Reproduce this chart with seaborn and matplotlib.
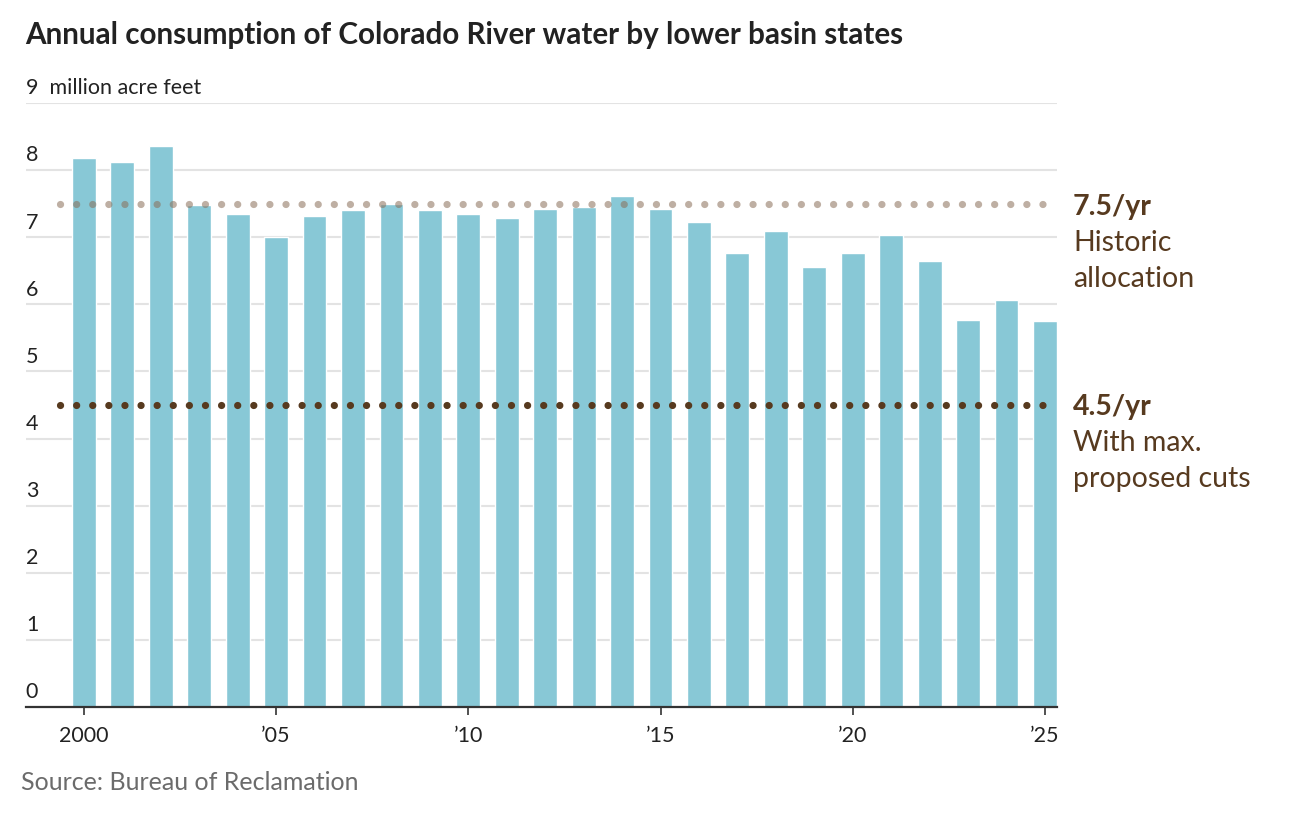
import numpy as np
import pandas as pd
import matplotlib
matplotlib.use("Agg")
import matplotlib.pyplot as plt
import matplotlib.transforms as mtransforms
import seaborn as sns

# Lower basin consumption, million acre feet
years = list(range(2000, 2026))
consumption = [8.18, 8.12, 8.36, 7.48, 7.34, 7.00, 7.31, 7.40, 7.49, 7.40,
               7.34, 7.28, 7.42, 7.45, 7.61, 7.42, 7.22, 6.76, 7.10, 6.55,
               6.76, 7.04, 6.64, 5.76, 6.07, 5.75]

y_ticks = [0, 1, 2, 3, 4, 5, 6, 7, 8, 9]
x_tick_years = [2000, 2005, 2010, 2015, 2020, 2025]
x_tick_labels = ["2000", "\u201905", "\u201910", "\u201915", "\u201920", "\u201925"]

historic_level = 7.5
cut_level = 4.5

BAR = "#88c8d6"
BROWN = "#573a1f"
GRID = "#e3e3e3"

sns.set_theme(style="white")
plt.rcParams["font.family"] = ["Lato", "DejaVu Sans"]

df = pd.DataFrame({"year": years, "value": consumption})

fig = plt.figure(figsize=(12.92, 8.24), dpi=100)
ax = fig.add_axes([0.020, 0.142, 0.798, 0.733])

sns.barplot(data=df, x="year", y="value", color=BAR, width=0.62,
            saturation=1, ax=ax, zorder=2)

ax.set_ylim(0, 9)
ax.set_xlim(-1.51, len(years) - 1 + 0.31)

# gridlines + labels sitting on top of them
lab_tr = mtransforms.blended_transform_factory(ax.transAxes, ax.transData)
for t in y_ticks:
    if t > 0:
        ax.axhline(t, color=GRID, lw=1.5, zorder=0)
    lab = f"{t}" if t < 9 else f"{t}  million acre feet"
    ax.text(0.0, t + 0.07, lab, transform=lab_tr, ha="left", va="bottom",
            fontsize=15.5, color="#222222")

ax.set_yticks([])
ax.set_ylabel("")
ax.set_xlabel("")
pos = [years.index(y) for y in x_tick_years]
ax.set_xticks(pos)
ax.set_xticklabels(x_tick_labels, fontsize=15.5, color="#222222")
ax.tick_params(axis="x", length=6, width=1.2, color="#333333", pad=8, bottom=True)

for s in ["top", "right", "left"]:
    ax.spines[s].set_visible(False)
ax.spines["bottom"].set_color("#333333")
ax.spines["bottom"].set_linewidth(1.6)
ax.spines["bottom"].set_zorder(4)

# dotted reference lines
x0 = -0.625
x1 = len(years) - 1 + 0.31
ax.hlines(historic_level, x0, x1, colors="#8a6e58", alpha=0.55, lw=5.2,
          linestyles=(0, (0.01, 2.22)), zorder=3, clip_on=False)
ax.hlines(cut_level, x0, x1, colors=BROWN, lw=5.2,
          linestyles=(0, (0.01, 2.22)), zorder=3, clip_on=False)
for coll in ax.collections:
    coll.set_capstyle("round")

# annotations at right
ann_x = 1073 / 1292
fs = 20.5
fig.text(ann_x, 1 - 207 / 824, "7.5/yr", fontsize=fs, fontweight="bold",
         color=BROWN, va="center", ha="left")
fig.text(ann_x, 1 - 243 / 824, "Historic", fontsize=fs,
         color=BROWN, va="center", ha="left")
fig.text(ann_x, 1 - 279 / 824, "allocation", fontsize=fs,
         color=BROWN, va="center", ha="left")
fig.text(ann_x, 1 - 407 / 824, "4.5/yr", fontsize=fs, fontweight="bold",
         color=BROWN, va="center", ha="left")
fig.text(ann_x, 1 - 443 / 824, "With max.", fontsize=fs,
         color=BROWN, va="center", ha="left")
fig.text(ann_x, 1 - 479 / 824, "proposed cuts", fontsize=fs,
         color=BROWN, va="center", ha="left")

fig.text(25 / 1292, 1 - 35 / 824, "Annual consumption of Colorado River water by lower basin states",
         fontsize=21.3, fontweight="bold", color="#222222", va="center", ha="left")
fig.text(21 / 1292, 1 - 782 / 824, "Source: Bureau of Reclamation", fontsize=18,
         color="#6b6b6b", va="center", ha="left")

fig.savefig("out.png", dpi=100)
